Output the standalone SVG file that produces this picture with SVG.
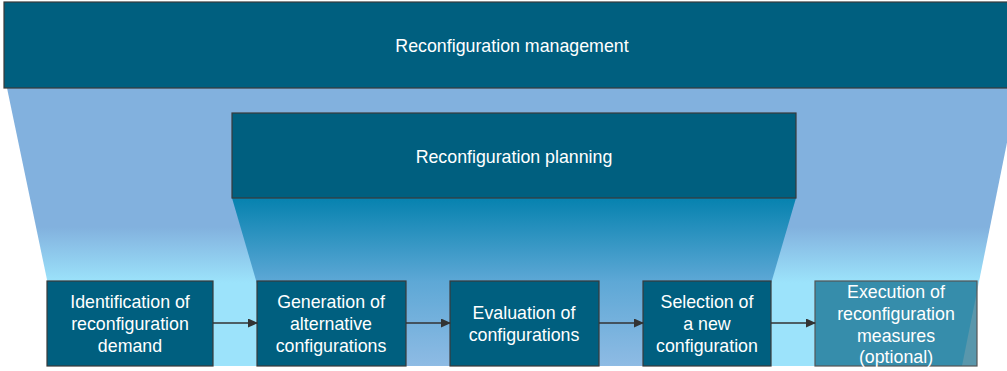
<svg xmlns="http://www.w3.org/2000/svg" width="1007" height="371" viewBox="0 0 1007 371">
<defs>
<linearGradient id="gOuter" x1="0" y1="88" x2="0" y2="366" gradientUnits="userSpaceOnUse">
<stop offset="0" stop-color="#82B1DE"/>
<stop offset="0.5" stop-color="#82B1DE"/>
<stop offset="0.7" stop-color="#9CE3FB"/>
<stop offset="1" stop-color="#9CE3FB"/>
</linearGradient>
<linearGradient id="gInner" x1="0" y1="198" x2="0" y2="366" gradientUnits="userSpaceOnUse">
<stop offset="0" stop-color="#0682AF"/>
<stop offset="0.5" stop-color="#5EA8D6"/>
<stop offset="1" stop-color="#8EBBE4"/>
</linearGradient>
<marker id="arr" markerWidth="10" markerHeight="9" refX="9" refY="4.5" orient="auto" markerUnits="userSpaceOnUse">
<path d="M0,0 L10,4.5 L0,9 Z" fill="#333"/>
</marker>
<style>
.box{fill:#005F7F;stroke:#3a3a3a;stroke-width:1.2}
.opt{fill:#005F7F;fill-opacity:0.65;stroke:#555;stroke-width:1.2}
text{font-family:"Liberation Sans",Arial,sans-serif;font-size:17.8px;fill:#fff;text-anchor:middle}
.conn{stroke:#333;stroke-width:1.3;fill:none;marker-end:url(#arr)}
</style>
</defs>
<rect width="1007" height="371" fill="#fff"/>
<polygon points="7,88 1018,88 962,366 65,366" fill="url(#gOuter)"/>
<g id="management">
<rect class="box" x="4" y="2" width="1010" height="86"/>
<text x="512" y="52">Reconfiguration management</text>
</g>
<polygon points="232,198 796,198 747,366 281,366" fill="url(#gInner)"/>
<g id="planning">
<rect class="box" x="232" y="113" width="564" height="85"/>
<text x="514" y="163">Reconfiguration planning</text>
</g>
<g id="n1">
<rect class="box" x="47" y="281" width="166" height="85"/>
<text x="130" y="308">Identification of</text>
<text x="130" y="330">reconfiguration</text>
<text x="130" y="352">demand</text>
</g>
<g id="n2">
<rect class="box" x="257" y="281" width="149" height="85"/>
<text x="331" y="308">Generation of</text>
<text x="331" y="330">alternative</text>
<text x="331" y="352">configurations</text>
</g>
<g id="n3">
<rect class="box" x="450" y="281" width="149" height="85"/>
<text x="524" y="319">Evaluation of</text>
<text x="524" y="341">configurations</text>
</g>
<g id="n4">
<rect class="box" x="643" y="281" width="128" height="85"/>
<text x="707" y="308">Selection of</text>
<text x="707" y="330">a new</text>
<text x="707" y="352">configuration</text>
</g>
<g id="n5">
<rect class="opt" x="815" y="281" width="162" height="85"/>
<text x="896" y="298">Execution of</text>
<text x="896" y="320">reconfiguration</text>
<text x="896" y="342">measures</text>
<text x="896" y="363">(optional)</text>
</g>
<g id="connectors">
<line class="conn" x1="213" y1="323" x2="257" y2="323"/>
<line class="conn" x1="406" y1="323" x2="450" y2="323"/>
<line class="conn" x1="599" y1="323" x2="643" y2="323"/>
<line class="conn" x1="771" y1="323" x2="815" y2="323"/>
</g>
</svg>
